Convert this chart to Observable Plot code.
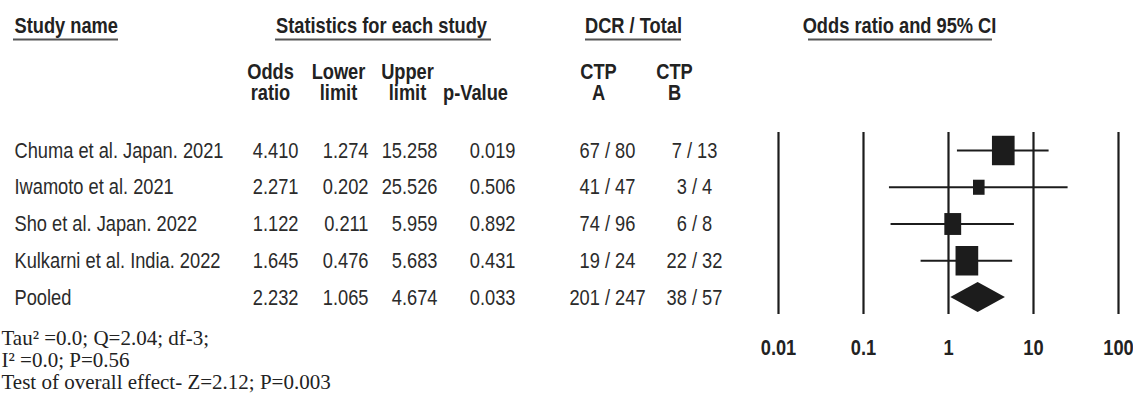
<!DOCTYPE html>
<html>
<head>
<meta charset="utf-8">
<script src="https://cdn.jsdelivr.net/npm/d3@7"></script>
<script src="https://cdn.jsdelivr.net/npm/@observablehq/plot@0.6"></script>
<style>
  html, body { margin: 0; padding: 0; background: #fff; }
  #chart { width: 1133px; height: 399px; overflow: hidden; }
  g[aria-label^="x-axis"] text { font-weight: bold; }
</style>
</head>
<body>
<div id="chart"></div>
<script>
// ---- Study-level data --------------------------------------------------
const studies = [
  "Chuma et al. Japan. 2021",
  "Iwamoto et al. 2021",
  "Sho et al. Japan. 2022",
  "Kulkarni et al. India. 2022"
];
const oddsRatio  = [4.410, 2.271, 1.122, 1.645];
const lowerLimit = [1.274, 0.202, 0.211, 0.476];
const upperLimit = [15.258, 25.526, 5.959, 5.683];
const pValue     = [0.019, 0.506, 0.892, 0.431];
const eventsA = [67, 41, 74, 19];
const totalA  = [80, 47, 96, 24];
const eventsB = [7, 3, 6, 22];
const totalB  = [13, 4, 8, 32];
// relative weight (%) of each study, shown by the box area
const relWeight = [35.5, 9.3, 19.6, 35.6];

// ---- Pooled estimate ---------------------------------------------------
const pooledLabel = "Pooled";
const pooledOR = 2.232, pooledLower = 1.065, pooledUpper = 4.674, pooledP = 0.033;
const pooledEventsA = 201, pooledTotalA = 247, pooledEventsB = 38, pooledTotalB = 57;

// ---- Axis / text -------------------------------------------------------
const axisTicks = [0.01, 0.1, 1, 10, 100];
const headerTop = ["Study name", "Statistics for each study", "DCR / Total", "Odds ratio and 95% CI"];
const headerSub = ["Odds\nratio", "Lower\nlimit", "Upper\nlimit", "p-Value", "CTP\nA", "CTP\nB"];
const footnote = [
  "Tau\u00B2 =0.0; Q=2.04; df-3;",
  "I\u00B2 =0.0; P=0.56",
  "Test of overall effect- Z=2.12; P=0.003"
];

// ---- Build table rows --------------------------------------------------
const studyRows = studies.map((name, i) => ({
  i, name,
  or: oddsRatio[i], lo: lowerLimit[i], hi: upperLimit[i], p: pValue[i],
  a: `${eventsA[i]} / ${totalA[i]}`, b: `${eventsB[i]} / ${totalB[i]}`,
  w: relWeight[i]
}));
const pooledRow = {
  i: studies.length, name: pooledLabel,
  or: pooledOR, lo: pooledLower, hi: pooledUpper, p: pooledP,
  a: `${pooledEventsA} / ${pooledTotalA}`, b: `${pooledEventsB} / ${pooledTotalB}`
};
const allRows = [...studyRows, pooledRow];

// diamond for the pooled estimate (half-height in row units)
const diamondHalf = 0.41;
const diamond = [
  {x: pooledRow.lo, y1: pooledRow.i, y2: pooledRow.i},
  {x: pooledRow.or, y1: pooledRow.i - diamondHalf, y2: pooledRow.i + diamondHalf},
  {x: pooledRow.hi, y1: pooledRow.i, y2: pooledRow.i}
];

// ---- Fonts -------------------------------------------------------------
function fontAvailable(name) {
  const ctx = document.createElement("canvas").getContext("2d");
  const probe = "Study name 0123456789 Odds ratio";
  ctx.font = "40px monospace";
  const base = ctx.measureText(probe).width;
  ctx.font = `40px '${name}', monospace`;
  return ctx.measureText(probe).width !== base;
}
const hasNarrow = fontAvailable("Liberation Sans Narrow");
const sansFamily = hasNarrow ? "'Liberation Sans Narrow', 'Arial Narrow', sans-serif" : "'Liberation Sans', Arial, sans-serif";
const serifFamily = "'Liberation Serif', 'Times New Roman', serif";
const narrowScale = 0.83;   // condensing of the sans labels

const ink = "#1c1c1c";
const textInk = "#2b2b2b";
const FRAME_TOP = 132;

// square-ish box whose area equals the dot's symbol size
const boxAspect = 1.3;
const boxSymbol = {
  draw(context, size) {
    const w = Math.sqrt(size / boxAspect), h = w * boxAspect;
    context.rect(-w / 2, -h / 2, w, h);
  }
};

// ---- Header layout (pixels) --------------------------------------------
const topPos = [
  {dx: 14, anchor: "start"},
  {dx: 381, anchor: "middle"},
  {dx: 633, anchor: "middle"},
  {dx: 899, anchor: "middle"}
];
const subPos = [
  {dx: 270, y: 82.5}, {dx: 338, y: 82.5}, {dx: 407, y: 82.5},
  {dx: 475, y: 93}, {dx: 598, y: 82.5}, {dx: 674, y: 82.5}
];

const headerMarks = [
  ...headerTop.map((t, k) => Plot.text([t], {
    text: d => d, frameAnchor: "top-left", lineAnchor: "middle",
    dx: topPos[k].dx, dy: 25 - FRAME_TOP,
    textAnchor: topPos[k].anchor, fontWeight: "bold", fill: "#222"
  })),
  ...headerSub.map((t, k) => Plot.text([t], {
    text: d => d, frameAnchor: "top-left", lineAnchor: "middle",
    dx: subPos[k].dx, dy: subPos[k].y - FRAME_TOP,
    textAnchor: "middle", lineHeight: 0.96, fontWeight: "bold", fill: "#222"
  }))
];

// table columns: [accessor, x position, anchor]
const columns = [
  [d => d.name, 14, "start"],
  [d => d.or.toFixed(3), 298, "end"],
  [d => d.lo.toFixed(3), 368, "end"],
  [d => d.hi.toFixed(3), 437, "end"],
  [d => d.p.toFixed(3), 515, "end"],
  [d => d.a, 607, "middle"],
  [d => d.b, 694, "middle"]
];
const tableMarks = columns.map(([text, dx, anchor]) => Plot.text(allRows, {
  y: "i", text, frameAnchor: "left", lineAnchor: "middle", dx, textAnchor: anchor, fill: textInk
}));

const chart = Plot.plot({
  width: 1133,
  height: 399,
  marginTop: FRAME_TOP,
  marginBottom: 85,
  marginLeft: 0,
  marginRight: 0,
  style: {fontFamily: sansFamily, fontSize: "22px", color: "#222", background: "#fff", overflow: "visible"},
  x: {type: "log", domain: [0.01, 100], range: [778, 1118], ticks: axisTicks,
      tickFormat: d => String(d), tickSize: 0, tickPadding: 25, label: null},
  y: {domain: [0, 4], range: [150, 297], axis: null},
  r: {type: "sqrt", domain: [0, d3.max(relWeight)], range: [0, 14.6]},
  marks: [
    Plot.ruleX(axisTicks, {x: d => d, stroke: ink, strokeWidth: 2.2}),
    Plot.ruleY(studyRows, {y: "i", x1: "lo", x2: "hi", stroke: ink, strokeWidth: 2}),
    Plot.dot(studyRows, {x: "or", y: "i", r: "w", symbol: boxSymbol, fill: ink, stroke: null}),
    Plot.area(diamond, {x1: "x", y1: "y1", y2: "y2", fill: ink}),
    ...tableMarks,
    ...headerMarks,
    Plot.text([footnote.join("\n")], {
      text: d => d, frameAnchor: "top-left", lineAnchor: "middle", dx: 1, dy: 359 - FRAME_TOP,
      textAnchor: "start", lineHeight: 22 / 21, fontFamily: serifFamily,
      fontSize: 21, fill: "#222"
    })
  ]
});

// underline rules under the top header cells
const svg = d3.select(chart);
const underlines = [[13, 118], [275, 491], [585, 681], [808, 992]];
svg.append("g").attr("aria-label", "header rules")
  .selectAll("line").data(underlines).join("line")
  .attr("x1", d => d[0]).attr("x2", d => d[1])
  .attr("y1", 39.5).attr("y2", 39.5)
  .attr("stroke", "#555").attr("stroke-width", 2);

// condense the sans text when no narrow face is installed (serif footnote untouched)
if (!hasNarrow) {
  svg.selectAll("text").each(function () {
    const fam = (this.closest("[font-family]") || this).getAttribute("font-family") || "";
    if (fam.includes("Serif")) return;
    const t = this.getAttribute("transform") || "";
    this.setAttribute("transform", `${t} scale(${narrowScale},1)`.trim());
  });
}

document.getElementById("chart").appendChild(chart);
</script>
</body>
</html>
